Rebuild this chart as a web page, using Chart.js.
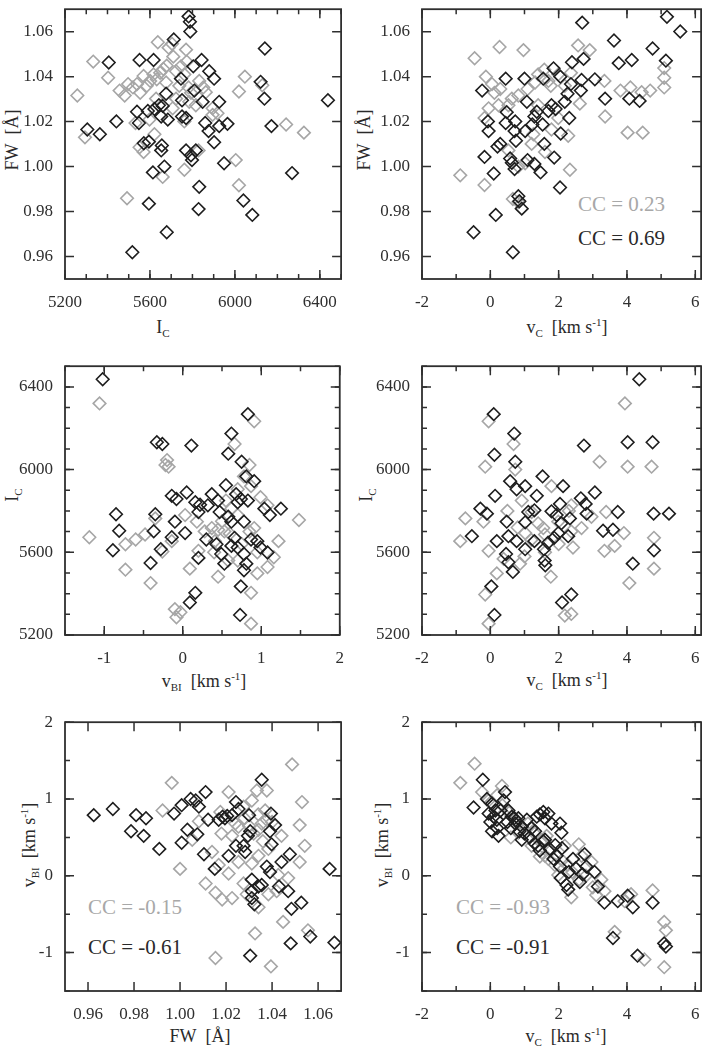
<!DOCTYPE html>
<html lang="en">
<head>
<meta charset="UTF-8">
<title>FW / I_C / v_C / v_BI scatter panels</title>
<script src="https://cdn.jsdelivr.net/npm/chart.js"></script>
<style>
  body {
    margin: 0;
    background: #fff;
    width: 706px;
    height: 1046px;
    position: relative;
    overflow: hidden;
    font-family: "Liberation Serif", "Times New Roman", Times, serif;
    color: #2a2a2a;
  }
  .panel { position: absolute; }
  .lbl {
    position: absolute;
    white-space: nowrap;
    font-size: 18px;
    line-height: 1;
    transform: translate(-50%, -50%);
  }
  .rot { transform: translate(-50%, -50%) rotate(-90deg); }
  .cc {
    position: absolute;
    white-space: nowrap;
    font-size: 21px;
    line-height: 1;
    transform: translateY(-50%);
  }
  .gray { color: #a8a8a8; }
  sub, sup { font-size: 11px; line-height: 0; }
  sub { vertical-align: -0.35em; }
  sup { vertical-align: 0.6em; }
</style>
</head>
<body>

<!-- axis titles -->
<div class="lbl rot" style="left:12px; top:140px;">FW&nbsp; [Å]</div>
<div class="lbl" style="left:163px; top:327px;">I<sub>C</sub></div>
<div class="lbl rot" style="left:364px; top:140px;">FW&nbsp; [Å]</div>
<div class="lbl" style="left:567px; top:327px;">v<sub>C</sub>&nbsp; [km s<sup>-1</sup>]</div>

<div class="lbl rot" style="left:12px; top:495px;">I<sub>C</sub></div>
<div class="lbl" style="left:204px; top:681px;">v<sub>BI</sub>&nbsp; [km s<sup>-1</sup>]</div>
<div class="lbl rot" style="left:366px; top:495px;">I<sub>C</sub></div>
<div class="lbl" style="left:567px; top:680px;">v<sub>C</sub>&nbsp; [km s<sup>-1</sup>]</div>

<div class="lbl rot" style="left:29px; top:845px;">v<sub>BI</sub>&nbsp; [km s<sup>-1</sup>]</div>
<div class="lbl" style="left:200px; top:1036px;">FW&nbsp; [Å]</div>
<div class="lbl rot" style="left:382px; top:845px;">v<sub>BI</sub>&nbsp; [km s<sup>-1</sup>]</div>
<div class="lbl" style="left:566px; top:1036px;">v<sub>C</sub>&nbsp; [km s<sup>-1</sup>]</div>

<!-- correlation coefficients -->
<div class="cc gray" style="left:578px; top:204px;">CC = 0.23</div>
<div class="cc" style="left:578px; top:238px;">CC = 0.69</div>
<div class="cc gray" style="left:88px; top:907px;">CC = -0.15</div>
<div class="cc" style="left:88px; top:947px;">CC = -0.61</div>
<div class="cc gray" style="left:456px; top:907px;">CC = -0.93</div>
<div class="cc" style="left:456px; top:947px;">CC = -0.91</div>

<script>
// tick labels
const icTicks = [5200, 5600, 6000, 6400];
const fwTicks = [0.96, 0.98, 1.00, 1.02, 1.04, 1.06];
const vcTicks = [-2, 0, 2, 4, 6];
const vbiTicks = [-1, 0, 1, 2];

// panel 1: I_C (x) vs FW (y)
const icFwBlack = [[5782,1.0668],[5788,1.0644],[5790,1.0601],[5712,1.0565],[6141,1.0525],[5406,1.0463],[5551,1.0474],[5617,1.0474],[5843,1.0474],[5804,1.0446],[5879,1.0424],[5902,1.0391],[5746,1.0391],[6121,1.0377],[6139,1.0302],[6438,1.0295],[5305,1.0165],[5364,1.0144],[5442,1.0201],[5539,1.0244],[5548,1.0194],[5590,1.0247],[5621,1.0256],[5642,1.0273],[5660,1.0270],[5676,1.0324],[5653,1.0223],[5684,1.0209],[5751,1.0295],[5751,1.0223],[5770,1.0216],[5809,1.0338],[5848,1.0288],[5860,1.0194],[5876,1.0158],[5926,1.0288],[5926,1.0180],[5965,1.0190],[6172,1.0180],[5571,1.0104],[5595,1.0111],[5656,1.0094],[5653,1.0072],[5770,1.0072],[5816,1.0072],[5793,1.0050],[5798,1.0029],[5902,1.0108],[5614,0.9974],[5668,1.0000],[5949,1.0015],[6269,0.9971],[5832,0.9910],[5595,0.9835],[5829,0.9811],[6040,0.9849],[6082,0.9785],[5679,0.9708],[5517,0.9619]];
const icFwGray = [[5258,1.0316],[5333,1.0467],[5294,1.0130],[5403,1.0395],[5457,1.0338],[5481,1.0316],[5497,1.0367],[5520,1.0352],[5539,1.0367],[5554,1.0328],[5570,1.0403],[5585,1.0359],[5601,1.0381],[5617,1.0410],[5632,1.0388],[5648,1.0417],[5637,1.0553],[5663,1.0434],[5679,1.0449],[5688,1.0529],[5704,1.0546],[5710,1.0489],[5723,1.0424],[5738,1.0359],[5770,1.0520],[5773,1.0467],[5762,1.0410],[5782,1.0352],[5793,1.0328],[5723,1.0302],[5707,1.0259],[5816,1.0273],[5863,1.0331],[5895,1.0259],[5918,1.0237],[5832,1.0381],[5851,1.0352],[6019,1.0334],[6047,1.0400],[6129,1.0362],[6241,1.0187],[6325,1.0151],[6004,1.0029],[6019,0.9917],[5492,0.9859],[5660,0.9954],[5551,1.0086],[5570,1.0065],[5621,1.0144],[5762,0.9986],[5829,1.0072],[5762,1.0201],[5532,1.0194],[5598,1.0209],[5629,1.0302],[5676,1.0374],[5785,1.0288],[5746,1.0446],[5895,1.0230]];

// panel 2: v_C (x) vs FW (y)
const vcFwBlack = [[2.69,1.0640],[5.17,1.0666],[5.56,1.0601],[3.62,1.0561],[4.75,1.0525],[2.73,1.0479],[2.39,1.0464],[3.76,1.0460],[4.14,1.0474],[5.14,1.0471],[0.45,1.0391],[1.00,1.0391],[1.55,1.0391],[1.85,1.0437],[2.05,1.0400],[2.67,1.0385],[3.06,1.0388],[3.36,1.0302],[4.07,1.0302],[4.37,1.0292],[-0.24,1.0338],[2.36,1.0367],[2.65,1.0338],[1.07,1.0288],[1.36,1.0244],[1.70,1.0247],[1.79,1.0273],[1.91,1.0256],[2.18,1.0288],[2.26,1.0324],[2.31,1.0216],[-0.07,1.0201],[-0.05,1.0158],[0.48,1.0242],[0.73,1.0201],[0.45,1.0194],[0.71,1.0158],[1.02,1.0158],[1.23,1.0187],[1.53,1.0187],[1.29,1.0223],[-0.17,1.0043],[0.10,0.9969],[0.21,1.0089],[0.29,1.0101],[0.75,1.0115],[0.58,1.0036],[0.63,1.0017],[0.71,0.9989],[1.09,1.0029],[1.58,1.0101],[1.29,1.0012],[1.47,0.9974],[1.87,1.0040],[2.04,0.9907],[2.06,1.0147],[0.16,0.9785],[0.82,0.9868],[0.85,0.9846],[0.92,0.9813],[-0.49,0.9708],[0.66,0.9619]];
const vcFwGray = [[-0.46,1.0482],[0.27,1.0532],[0.97,1.0518],[-0.13,1.0400],[0.05,1.0367],[0.12,1.0328],[0.29,1.0345],[-0.17,1.0216],[-0.05,1.0259],[0.53,1.0273],[0.82,1.0316],[1.09,1.0345],[1.31,1.0374],[1.40,1.0410],[1.58,1.0431],[1.70,1.0381],[1.77,1.0359],[1.99,1.0410],[2.18,1.0359],[2.36,1.0417],[2.57,1.0539],[2.91,1.0518],[2.62,1.0280],[3.36,1.0223],[3.81,1.0338],[4.10,1.0352],[4.43,1.0331],[4.68,1.0338],[5.09,1.0352],[5.09,1.0395],[5.09,1.0438],[4.02,1.0151],[4.46,1.0151],[2.33,0.9986],[0.53,1.0072],[0.82,1.0000],[1.02,1.0015],[1.26,1.0144],[1.79,1.0165],[2.28,1.0137],[-0.88,0.9961],[-0.17,0.9918],[0.66,0.9856],[0.82,0.9842],[0.24,1.0273],[0.63,1.0302],[1.40,1.0273],[1.99,1.0216],[3.34,1.0381],[1.21,1.0101],[1.60,1.0065]];

// panel 3: v_BI (x) vs I_C (y)
const vbiIcBlack = [[-1.02,6437],[0.83,6268],[0.62,6174],[0.58,6077],[0.75,6038],[-0.33,6132],[-0.26,6124],[0.11,6116],[0.81,5967],[0.91,5944],[0.55,5924],[0.37,5881],[0.05,5889],[-0.14,5873],[-0.08,5858],[0.68,5881],[0.74,5858],[0.70,5842],[0.83,5850],[0.16,5842],[0.22,5830],[0.32,5827],[0.47,5795],[0.45,5850],[0.58,5772],[0.62,5748],[0.78,5748],[1.04,5811],[1.11,5780],[1.25,5811],[-0.85,5784],[-0.81,5704],[-0.89,5610],[-0.35,5784],[-0.37,5702],[-0.41,5548],[-0.10,5748],[-0.14,5673],[0.03,5693],[-0.28,5615],[0.20,5795],[0.30,5662],[0.20,5573],[0.43,5639],[0.53,5545],[0.66,5670],[0.70,5623],[0.78,5592],[0.87,5662],[0.95,5654],[0.99,5623],[1.08,5599],[0.81,5545],[0.78,5513],[0.74,5435],[0.16,5404],[0.09,5357],[0.73,5297],[0.49,5592],[0.62,5631]];
const vbiIcGray = [[-1.06,6320],[0.91,6234],[0.66,6124],[-0.20,6046],[-0.18,6014],[-0.22,6022],[0.85,6022],[0.78,5967],[-1.19,5673],[-0.73,5639],[-0.60,5662],[-0.48,5686],[-0.73,5516],[-0.41,5451],[-0.14,5654],[-0.26,5604],[0.09,5521],[0.45,5482],[-0.10,5325],[-0.03,5310],[-0.08,5286],[0.87,5404],[0.87,5255],[1.48,5756],[1.22,5654],[0.95,5498],[1.16,5576],[1.08,5529],[0.28,5701],[0.37,5717],[0.45,5709],[0.53,5701],[0.41,5654],[0.20,5607],[0.62,5811],[0.70,5905],[0.87,5920],[0.99,5866],[0.91,5717],[1.08,5827],[0.03,5780],[-0.35,5764],[0.18,5748],[0.70,5560],[0.58,5560],[0.50,5750],[0.60,5690],[0.75,5640],[0.85,5700],[0.70,5780],[0.55,5850],[0.40,5600],[0.95,5600]];

// panel 4: v_C (x) vs I_C (y)
const vcIcBlack = [[4.36,6437],[0.10,6268],[0.70,6174],[0.12,6072],[0.73,6038],[2.74,6116],[4.02,6132],[4.75,6132],[0.58,5944],[1.53,5967],[1.02,5920],[2.13,5920],[0.77,5905],[1.36,5873],[0.14,5873],[-0.29,5811],[-0.10,5787],[0.48,5748],[1.02,5745],[1.29,5803],[1.79,5798],[2.04,5834],[1.94,5780],[2.65,5861],[2.79,5834],[3.06,5889],[2.82,5787],[2.08,5740],[2.33,5764],[2.28,5678],[3.30,5704],[3.59,5709],[3.73,5795],[4.78,5787],[5.23,5787],[4.79,5610],[-0.54,5678],[0.19,5654],[0.46,5592],[0.53,5552],[0.66,5505],[0.53,5678],[0.77,5654],[1.02,5615],[1.29,5654],[1.57,5615],[1.69,5646],[1.59,5560],[1.61,5537],[1.87,5670],[1.99,5693],[4.17,5545],[0.03,5435],[0.12,5297],[2.10,5357],[2.37,5396],[1.11,5795]];
const vcIcGray = [[3.94,6320],[-0.05,6234],[0.68,6124],[-0.15,6014],[3.20,6038],[4.02,6014],[4.72,6014],[0.73,6000],[-0.88,5654],[-0.73,5764],[-0.20,5748],[-0.15,5396],[-0.05,5255],[2.37,5302],[2.18,5294],[3.34,5607],[3.64,5631],[3.91,5693],[4.07,5451],[4.79,5670],[4.79,5521],[2.37,5701],[2.42,5623],[1.77,5482],[1.60,5686],[1.55,5717],[1.21,5795],[0.19,5498],[0.39,5568],[-0.05,5607],[0.87,5545],[1.02,5693],[0.92,5850],[1.79,5920],[2.37,5827],[2.96,5772],[3.39,5795],[1.99,5748],[2.67,5717],[0.80,5720],[1.20,5660],[1.40,5740],[1.60,5600],[2.00,5640],[2.30,5800],[0.50,5800],[1.00,5580]];

// panel 5: FW (x) vs v_BI (y)
const fwVbiBlack = [[0.9625,0.79],[0.9708,0.87],[0.9809,0.79],[0.9787,0.58],[0.9842,0.52],[0.9852,0.75],[0.9910,0.35],[0.9974,0.81],[1.0007,0.92],[1.0046,1.00],[1.0007,0.43],[1.0032,0.60],[1.0068,0.98],[1.0082,0.90],[1.0075,0.54],[1.0111,1.09],[1.0122,0.73],[1.0104,0.28],[1.0151,0.09],[1.0168,0.73],[1.0185,0.77],[1.0195,0.75],[1.0205,0.78],[1.0226,0.79],[1.0211,0.26],[1.0243,0.39],[1.0243,0.96],[1.0254,0.87],[1.0276,0.39],[1.0295,0.52],[1.0283,0.31],[1.0300,0.79],[1.0305,0.58],[1.0355,1.25],[1.0312,-0.05],[1.0312,-0.20],[1.0312,-0.29],[1.0323,-0.37],[1.0341,-0.14],[1.0355,-0.12],[1.0377,0.12],[1.0391,0.05],[1.0391,0.58],[1.0398,0.41],[1.0395,0.81],[1.0413,0.66],[1.0430,-0.14],[1.0441,0.18],[1.0470,-0.20],[1.0477,0.28],[1.0484,-0.43],[1.0481,-0.88],[1.0527,-0.35],[1.0566,-0.79],[1.0650,0.09],[1.0671,-0.87],[1.0305,-1.04]];
const fwVbiGray = [[0.9964,1.21],[0.9924,0.85],[1.0000,0.09],[1.0111,-0.10],[1.0154,-0.22],[1.0154,-1.07],[1.0211,1.09],[1.0183,-0.31],[1.0175,0.83],[1.0226,-0.29],[1.0276,0.90],[1.0312,0.98],[1.0334,1.11],[1.0377,1.11],[1.0370,0.85],[1.0384,0.35],[1.0377,0.73],[1.0355,0.68],[1.0341,0.60],[1.0326,-0.75],[1.0341,-0.41],[1.0384,-0.24],[1.0395,-1.18],[1.0420,-0.20],[1.0441,0.52],[1.0448,-0.60],[1.0470,-0.03],[1.0487,1.45],[1.0520,0.66],[1.0530,0.96],[1.0520,0.18],[1.0542,0.39],[1.0556,-0.71],[1.0139,0.31],[1.0168,0.14],[1.0211,0.03],[1.0254,0.18],[1.0276,-0.10],[1.0290,-0.24],[1.0312,0.16],[1.0341,0.26],[1.0427,0.01],[1.0226,0.52],[1.0254,0.64],[1.0082,0.71],[1.0053,0.47],[1.0280,0.75],[1.0320,0.55],[1.0360,0.45],[1.0240,0.68],[1.0300,0.65],[1.0400,0.70],[1.0180,0.55],[1.0340,0.80]];

// panel 6: v_C (x) vs v_BI (y)
const vcVbiBlack = [[-0.22,1.25],[-0.49,0.89],[-0.10,1.00],[0.05,0.94],[-0.05,0.81],[0.10,0.77],[0.05,0.58],[0.24,0.52],[0.43,1.09],[0.39,0.98],[0.53,0.85],[0.63,0.77],[0.73,0.68],[0.82,0.75],[0.92,0.64],[1.07,0.73],[1.21,0.62],[1.36,0.77],[1.55,0.83],[1.70,0.81],[1.79,0.68],[1.40,0.39],[1.31,0.58],[1.60,0.47],[1.74,0.35],[1.94,0.26],[2.04,0.68],[2.08,0.56],[2.10,0.36],[2.04,0.12],[2.06,-0.03],[2.23,-0.12],[2.28,-0.18],[2.42,0.22],[2.62,-0.08],[2.76,0.28],[2.81,0.12],[3.05,0.05],[3.15,-0.14],[3.34,-0.35],[3.73,-0.33],[4.02,-0.26],[4.17,-0.41],[4.75,-0.35],[3.59,-0.81],[4.31,-1.04],[5.09,-0.88],[5.14,-0.92],[0.19,0.73],[0.92,0.47],[0.30,0.85],[0.50,0.70],[0.60,0.62],[0.70,0.75],[0.85,0.58],[1.00,0.55],[1.15,0.50],[1.30,0.42],[1.45,0.33],[1.55,0.45],[1.85,0.22],[1.90,0.40],[2.30,0.05],[2.50,0.10],[2.70,0.02],[1.45,0.80],[1.60,0.75],[0.20,0.62],[0.00,0.70],[0.15,0.85]];
const vcVbiGray = [[-0.88,1.21],[-0.46,1.46],[-0.24,1.09],[0.34,1.17],[-0.05,0.98],[0.39,0.81],[0.82,0.56],[1.21,0.39],[1.70,0.22],[1.89,0.14],[2.26,0.14],[2.37,-0.28],[2.59,0.41],[2.67,0.26],[2.96,0.18],[3.25,-0.05],[3.34,-0.20],[3.64,-0.73],[4.12,-0.24],[3.93,-0.33],[4.51,-1.09],[4.75,-0.19],[5.09,-0.60],[5.14,-0.71],[5.09,-1.19],[1.65,0.52],[2.18,0.39],[1.99,0.01],[1.60,0.26],[0.00,0.95],[0.20,1.05],[0.35,0.92],[0.55,0.82],[0.75,0.70],[1.00,0.60],[1.10,0.68],[1.30,0.55],[1.50,0.45],[1.75,0.32],[2.10,0.20],[2.40,0.05],[2.60,-0.05],[2.80,0.00],[3.00,-0.15],[3.10,-0.25],[0.60,0.50],[1.45,0.25]];

const BLACK = '#1e1e1e';
const GRAY = '#a6a6a6';
const AXIS = '#2f2f2f';
const AXW = 65, AXH = 46, PAD = 6;

// frame + inward ticks, drawn on top of the points
const framePlugin = {
  id: 'frame',
  afterDraw(chart) {
    const opt = chart.options.plugins.frame;
    const a = chart.chartArea;
    const ctx = chart.ctx;
    const sx = chart.scales.x, sy = chart.scales.y;
    ctx.save();
    ctx.strokeStyle = AXIS;
    ctx.lineWidth = 1.8;
    ctx.strokeRect(a.left, a.top, a.right - a.left, a.bottom - a.top);
    ctx.lineWidth = 1.5;
    const tickX = (v, len) => {
      const p = sx.getPixelForValue(v);
      ctx.beginPath();
      ctx.moveTo(p, a.bottom); ctx.lineTo(p, a.bottom - len);
      ctx.moveTo(p, a.top); ctx.lineTo(p, a.top + len);
      ctx.stroke();
    };
    const tickY = (v, len) => {
      const p = sy.getPixelForValue(v);
      ctx.beginPath();
      ctx.moveTo(a.left, p); ctx.lineTo(a.left + len, p);
      ctx.moveTo(a.right, p); ctx.lineTo(a.right - len, p);
      ctx.stroke();
    };
    const eps = 1e-9;
    if (opt.xMinor) {
      for (let v = Math.ceil(sx.min / opt.xMinor) * opt.xMinor; v <= sx.max + eps; v += opt.xMinor) tickX(v, 5);
    }
    if (opt.yMinor) {
      for (let v = Math.ceil(sy.min / opt.yMinor) * opt.yMinor; v <= sy.max + eps; v += opt.yMinor) tickY(v, 5);
    }
    opt.xTicks.forEach(v => tickX(v, 9));
    opt.yTicks.forEach(v => tickY(v, 9));
    ctx.restore();
  }
};

function toPoints(arr) {
  return arr.map(p => ({ x: p[0], y: p[1] }));
}

function makePanel(frame, xr, yr, xTicks, yTicks, xDec, yDec, xMinor, yMinor, black, gray) {
  const [fl, ft, fr, fb] = frame;
  const div = document.createElement('div');
  div.className = 'panel';
  const w = fr - fl + AXW + PAD;
  const h = fb - ft + PAD + AXH;
  div.style.left = (fl - AXW) + 'px';
  div.style.top = (ft - PAD) + 'px';
  div.style.width = w + 'px';
  div.style.height = h + 'px';
  const canvas = document.createElement('canvas');
  div.appendChild(canvas);
  document.body.appendChild(div);

  const tickFont = { family: '"Liberation Serif", "Times New Roman", Times, serif', size: 17 };
  const pointStyle = (color) => ({
    pointStyle: 'rectRot',
    pointRadius: 6.3,
    pointHoverRadius: 6.3,
    pointBorderWidth: 1.6,
    pointBorderColor: color,
    pointBackgroundColor: 'rgba(0,0,0,0)',
    borderColor: color,
    backgroundColor: 'rgba(0,0,0,0)',
    showLine: false
  });

  new Chart(canvas, {
    type: 'scatter',
    data: {
      datasets: [
        Object.assign({ label: 'black', data: toPoints(black) }, pointStyle(BLACK)),
        Object.assign({ label: 'gray', data: toPoints(gray) }, pointStyle(GRAY))
      ]
    },
    options: {
      responsive: true,
      maintainAspectRatio: false,
      animation: false,
      events: [],
      layout: { padding: { top: PAD, right: PAD, left: 0, bottom: 0 } },
      plugins: {
        legend: { display: false },
        tooltip: { enabled: false },
        frame: { xTicks: xTicks, yTicks: yTicks, xMinor: xMinor, yMinor: yMinor }
      },
      scales: {
        x: {
          type: 'linear',
          min: xr[0], max: xr[1],
          grid: { display: false },
          border: { display: false },
          afterBuildTicks: s => { s.ticks = xTicks.map(v => ({ value: v })); },
          afterFit: s => { s.height = AXH; },
          ticks: {
            font: tickFont, color: AXIS, padding: 5, maxRotation: 0, autoSkip: false,
            callback: v => Number(v).toFixed(xDec)
          }
        },
        y: {
          type: 'linear',
          min: yr[0], max: yr[1],
          grid: { display: false },
          border: { display: false },
          afterBuildTicks: s => { s.ticks = yTicks.map(v => ({ value: v })); },
          afterFit: s => { s.width = AXW; },
          ticks: {
            font: tickFont, color: AXIS, padding: 4, autoSkip: false,
            callback: v => Number(v).toFixed(yDec)
          }
        }
      }
    },
    plugins: [framePlugin]
  });
}

makePanel([65, 1, 343, 279], [5200, 6500], [0.95, 1.07], icTicks, fwTicks, 0, 2, 100, 0, icFwBlack, icFwGray);
makePanel([422, 1, 703, 279], [-2, 6.17], [0.95, 1.07], vcTicks, fwTicks, 0, 2, 1, 0, vcFwBlack, vcFwGray);
makePanel([65, 358, 343, 635], [-1.5, 2], [5200, 6500], vbiTicks, icTicks, 0, 0, 0.5, 100, vbiIcBlack, vbiIcGray);
makePanel([422, 358, 703, 635], [-2, 6.17], [5200, 6500], vcTicks, icTicks, 0, 0, 1, 100, vcIcBlack, vcIcGray);
makePanel([65, 714, 343, 991], [0.95, 1.07], [-1.5, 2], fwTicks, vbiTicks, 2, 0, 0, 0.5, fwVbiBlack, fwVbiGray);
makePanel([422, 714, 703, 991], [-2, 6.17], [-1.5, 2], vcTicks, vbiTicks, 0, 0, 1, 0.5, vcVbiBlack, vcVbiGray);
</script>
</body>
</html>
